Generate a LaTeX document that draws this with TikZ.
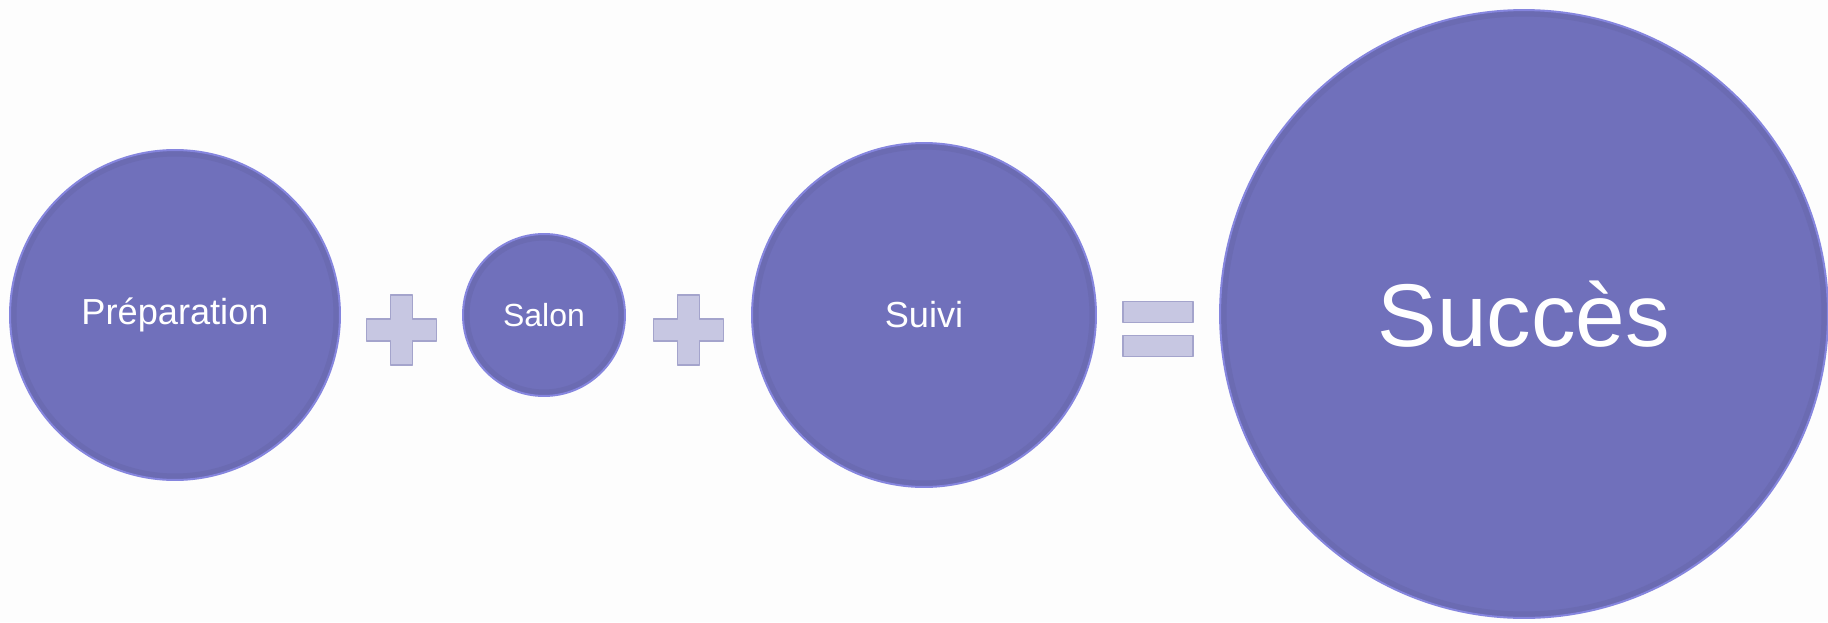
\documentclass[tikz,border=0pt]{standalone}
\usepackage{fontspec}
\setmainfont{Liberation Sans}
\usepackage{tikz}
\usetikzlibrary{calc}
\definecolor{fondpage}{HTML}{FDFDFD}
\definecolor{disque}{HTML}{7070BB}
\definecolor{bord}{HTML}{8585DE}
\definecolor{ombre}{HTML}{6565A8}
\definecolor{signefond}{HTML}{C7C7E2}
\definecolor{signebord}{HTML}{A4A4CC}
\tikzstyle{every path}=[line join=round]
\tikzstyle{etape}=[circle,fill=disque,draw=bord,line width=0.04cm,text=white,inner sep=0pt,outer sep=0pt,
  path picture={\draw[ombre,line width=0.12cm,opacity=0.45] (path picture bounding box.center) circle (\pgfkeysvalueof{/pgf/minimum width}/2-0.07cm);}]
\tikzstyle{signe}=[fill=signefond,draw=signebord,line width=0.03cm]
\tikzset{signeplus/.pic={
  \draw[signe] (-11,-35) -- (11,-35) -- (11,-11) -- (35,-11) -- (35,11) -- (11,11)
    -- (11,35) -- (-11,35) -- (-11,11) -- (-35,11) -- (-35,-11) -- (-11,-11) -- cycle;},
  signeegal/.pic={
  \draw[signe] (-35,-28) rectangle (35,-7);
  \draw[signe] (-35,6) rectangle (35,27);}}

\begin{document}
\begin{tikzpicture}[x=0.02cm,y=-0.02cm]
\fill[fondpage] (0,0) rectangle (1828,622);
\useasboundingbox (0,0) rectangle (1828,622);
% les quatre cercles
\node[etape,minimum size=6.6cm,font=\fontsize{20.6}{24}\selectfont] (prep) at (175,315) {Préparation};
\node[etape,minimum size=3.24cm,font=\fontsize{18.2}{22}\selectfont] (salon) at (544,315) {Salon};
\node[etape,minimum size=6.88cm,font=\fontsize{20.6}{24}\selectfont] (suivi) at (924,315) {Suivi};
\node[etape,minimum size=12.16cm,font=\fontsize{50.7}{60}\selectfont] (succes) at (1524,314) {Succès};
% signes + et =
\pic at ($(prep.east)!0.5!(salon.west)+(0,15)$) {signeplus};
\pic at ($(salon.east)!0.5!(suivi.west)+(0,15)$) {signeplus};
\pic at ($(suivi.east)!0.5!(succes.west)+(0,15)$) {signeegal};
\end{tikzpicture}
\end{document}
